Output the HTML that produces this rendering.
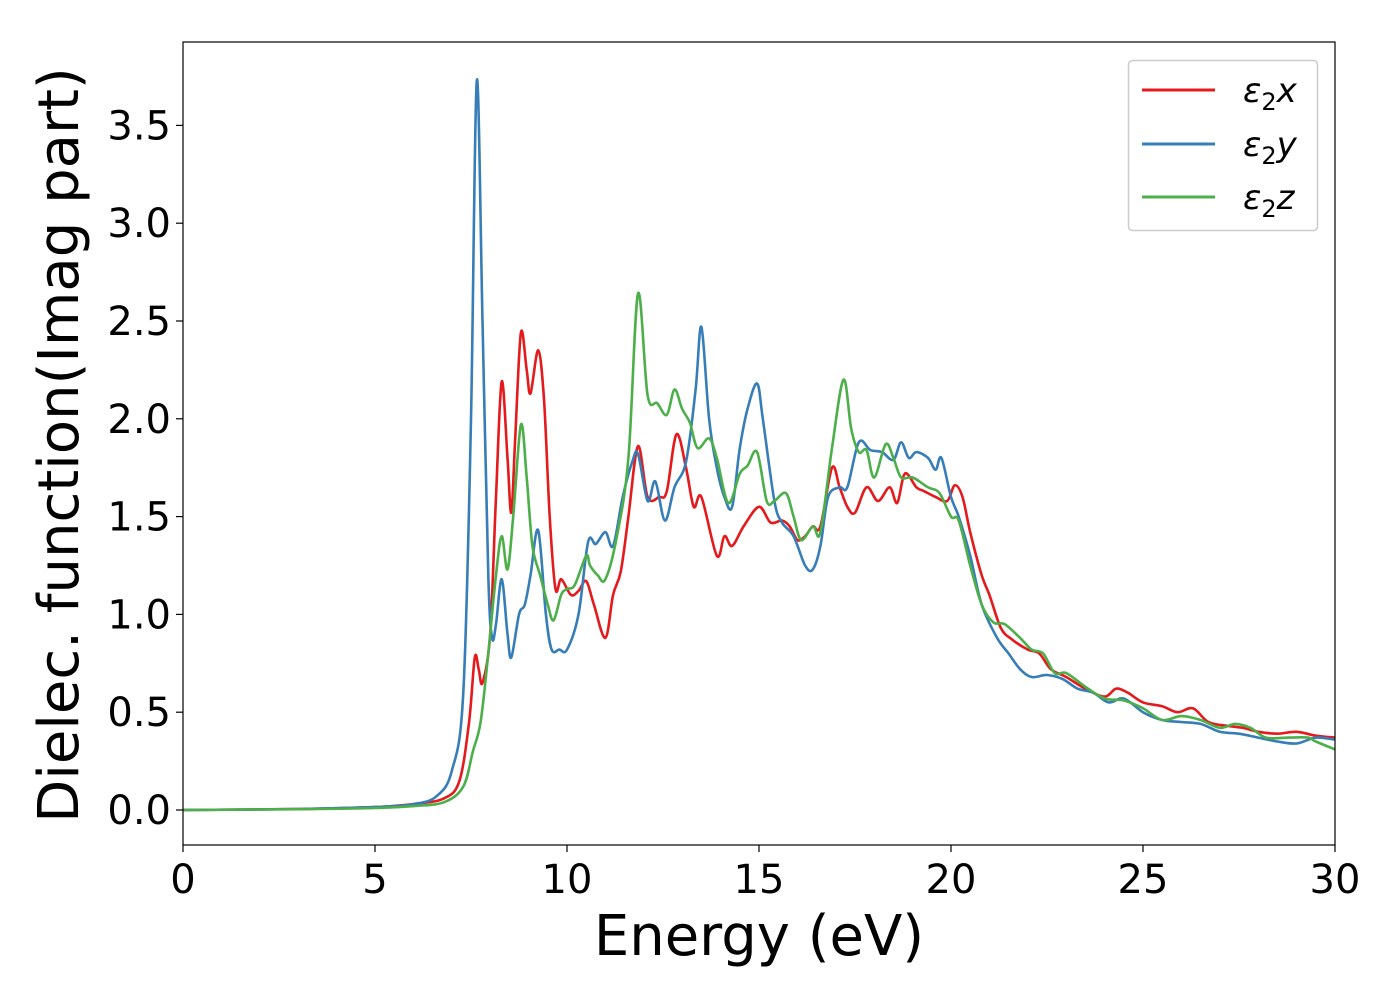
<!DOCTYPE html>
<html><head><meta charset="utf-8"><style>
html,body{margin:0;padding:0;background:#fff;}
svg{display:block;font-family:"DejaVu Sans","Liberation Sans",sans-serif;}
</style></head><body>
<svg id="chart" width="1400" height="1000" viewBox="0 0 1400 1000" xmlns="http://www.w3.org/2000/svg">
<rect width="1400" height="1000" fill="#fff"/>
<g id="plot"></g>
<g id="axes"></g>
<text x="759" y="955" font-size="56" text-anchor="middle">Energy (eV)</text>
<text transform="translate(78,445) rotate(-90)" font-size="56" text-anchor="middle">Dielec. function(Imag part)</text>
<g>
<rect x="1128.5" y="60.5" width="189" height="170" rx="4" fill="#fff" stroke="#ccc" stroke-width="1.5"/>
<g><line x1="1142" y1="90" x2="1215" y2="90" stroke="#e41a1c" stroke-width="3"/><text x="1243" y="102" font-size="34" font-style="italic">ε<tspan font-size="24" font-style="normal" dy="8">2</tspan><tspan dy="-8">x</tspan></text></g>
<g><line x1="1142" y1="144" x2="1215" y2="144" stroke="#377eb8" stroke-width="3"/><text x="1243" y="156" font-size="34" font-style="italic">ε<tspan font-size="24" font-style="normal" dy="8">2</tspan><tspan dy="-8">y</tspan></text></g>
<g><line x1="1142" y1="197" x2="1215" y2="197" stroke="#4daf4a" stroke-width="3"/><text x="1243" y="209" font-size="34" font-style="italic">ε<tspan font-size="24" font-style="normal" dy="8">2</tspan><tspan dy="-8">z</tspan></text></g>
</g>
</svg>
<script>
const xTicks=[0,5,10,15,20,25,30];
const yTicks=[0.0,0.5,1.0,1.5,2.0,2.5,3.0,3.5];
const xE=[0,3,5,6,6.8,7.2,7.45,7.6,7.7,7.8,8.0,8.15,8.3,8.45,8.55,8.65,8.8,8.95,9.05,9.25,9.4,9.55,9.7,9.85,10.1,10.3,10.5,10.7,11.0,11.2,11.4,11.6,11.85,12.1,12.4,12.6,12.85,13.1,13.3,13.5,13.9,14.1,14.3,14.6,15.0,15.3,15.6,15.8,16.0,16.2,16.4,16.6,16.9,17.1,17.3,17.5,17.8,18.1,18.4,18.6,18.8,19.1,19.3,19.6,19.9,20.1,20.3,20.5,20.8,21.0,21.3,21.6,22.0,22.3,22.6,23.0,23.5,24.0,24.3,24.6,25.0,25.5,25.9,26.3,26.7,27.2,27.6,28.0,28.5,29.0,29.5,30];
const xV=[0,0.005,0.015,0.03,0.06,0.15,0.45,0.78,0.72,0.65,0.9,1.6,2.19,1.8,1.52,1.9,2.44,2.25,2.13,2.35,2.1,1.5,1.13,1.18,1.1,1.12,1.17,1.05,0.88,1.1,1.22,1.5,1.86,1.6,1.6,1.63,1.92,1.75,1.55,1.6,1.3,1.4,1.35,1.45,1.55,1.47,1.48,1.45,1.38,1.4,1.45,1.45,1.75,1.65,1.55,1.52,1.65,1.58,1.65,1.57,1.72,1.65,1.63,1.6,1.58,1.66,1.6,1.42,1.2,1.1,0.93,0.87,0.82,0.8,0.72,0.68,0.62,0.58,0.62,0.6,0.55,0.53,0.5,0.52,0.45,0.43,0.42,0.4,0.39,0.4,0.38,0.37];
const yE=[0,3,5,6,6.6,7.0,7.3,7.5,7.65,7.8,7.95,8.05,8.15,8.3,8.45,8.55,8.75,8.9,9.05,9.25,9.45,9.6,9.8,10.0,10.3,10.55,10.75,11.0,11.2,11.45,11.7,11.85,12.1,12.3,12.55,12.8,13.1,13.35,13.5,13.7,13.9,14.1,14.3,14.5,14.7,14.95,15.1,15.4,15.6,15.9,16.2,16.4,16.6,16.8,17.1,17.3,17.6,17.9,18.2,18.5,18.7,18.9,19.1,19.4,19.6,19.75,20.0,20.2,20.5,20.8,21.2,21.5,21.8,22.1,22.5,22.9,23.3,23.7,24.1,24.5,25.0,25.5,26.0,26.5,27.0,27.5,28.0,28.5,29.0,29.5,30];
const yV=[0,0.005,0.015,0.03,0.07,0.2,0.6,2.0,3.73,2.5,1.2,0.88,0.95,1.18,0.9,0.78,1.0,1.05,1.2,1.43,1.0,0.82,0.82,0.82,1.0,1.37,1.36,1.42,1.35,1.6,1.78,1.82,1.58,1.68,1.48,1.65,1.78,2.15,2.47,2.0,1.75,1.6,1.55,1.85,2.05,2.18,2.0,1.58,1.47,1.4,1.25,1.23,1.35,1.6,1.65,1.65,1.88,1.84,1.83,1.79,1.88,1.8,1.83,1.8,1.74,1.8,1.6,1.5,1.3,1.05,0.88,0.8,0.72,0.68,0.69,0.67,0.62,0.6,0.55,0.57,0.5,0.46,0.45,0.44,0.4,0.39,0.37,0.35,0.34,0.37,0.36];
const zE=[0,3,5,6,6.8,7.3,7.55,7.75,7.95,8.15,8.3,8.45,8.6,8.8,8.95,9.1,9.3,9.5,9.65,9.85,10.0,10.2,10.5,10.6,10.8,11.0,11.3,11.6,11.85,12.1,12.35,12.6,12.8,13.0,13.2,13.4,13.7,13.9,14.2,14.5,14.7,14.95,15.2,15.4,15.7,15.9,16.1,16.4,16.6,16.9,17.2,17.4,17.6,17.8,18.0,18.3,18.5,18.7,19.0,19.4,19.7,20.0,20.2,20.5,20.8,21.1,21.4,21.8,22.1,22.4,22.7,23.0,23.5,24.0,24.5,25.0,25.5,26.0,26.5,27.0,27.4,27.8,28.2,28.8,29.3,29.5,30];
const zV=[0,0.004,0.01,0.02,0.04,0.12,0.3,0.45,0.8,1.2,1.4,1.23,1.5,1.97,1.7,1.35,1.2,1.05,0.97,1.1,1.13,1.15,1.3,1.25,1.2,1.18,1.4,1.8,2.64,2.12,2.08,2.02,2.15,2.05,1.98,1.85,1.9,1.8,1.57,1.72,1.76,1.83,1.58,1.58,1.62,1.5,1.38,1.45,1.42,1.85,2.2,1.95,1.83,1.84,1.7,1.87,1.8,1.7,1.7,1.65,1.62,1.5,1.48,1.25,1.05,0.96,0.95,0.88,0.82,0.8,0.7,0.7,0.63,0.57,0.56,0.52,0.46,0.48,0.46,0.42,0.44,0.42,0.37,0.37,0.37,0.35,0.31];

const L=183,R=1335,T=42,B=845;
const sx=v=>L+(v-0)/(30-0)*(R-L);
const sy=v=>810-v*195.6;
const NS='http://www.w3.org/2000/svg';
const plot=document.getElementById('plot'), axes=document.getElementById('axes');
function mk(tag,attrs,parent){const e=document.createElementNS(NS,tag);for(const k in attrs)e.setAttribute(k,attrs[k]);parent.appendChild(e);return e;}
function pathFor(E,V){
  const p=E.map((e,i)=>[sx(e),sy(V[i])]);
  let d='M'+p[0][0].toFixed(1)+','+p[0][1].toFixed(1);
  for(let i=0;i<p.length-1;i++){
    const p0=p[Math.max(0,i-1)],p1=p[i],p2=p[i+1],p3=p[Math.min(p.length-1,i+2)];
    const c1=[p1[0]+(p2[0]-p0[0])/6,p1[1]+(p2[1]-p0[1])/6];
    const c2=[p2[0]-(p3[0]-p1[0])/6,p2[1]-(p3[1]-p1[1])/6];
    d+='C'+c1[0].toFixed(1)+','+c1[1].toFixed(1)+' '+c2[0].toFixed(1)+','+c2[1].toFixed(1)+' '+p2[0].toFixed(1)+','+p2[1].toFixed(1);
  }
  return d;
}
mk('clipPath',{id:'clip'},plot).appendChild(Object.assign(document.createElementNS(NS,'rect'),{}));
plot.querySelector('clipPath rect').setAttribute('x',L);plot.querySelector('clipPath rect').setAttribute('y',T);
plot.querySelector('clipPath rect').setAttribute('width',R-L);plot.querySelector('clipPath rect').setAttribute('height',B-T);
const series=[[xE,xV,'#e41a1c','line-eps2x'],[yE,yV,'#377eb8','line-eps2y'],[zE,zV,'#4daf4a','line-eps2z']];
series.forEach(s=>{
  const el=mk('path',{d:pathFor(s[0],s[1]),fill:'none',stroke:s[2],'stroke-width':2.6,'stroke-linejoin':'round','clip-path':'url(#clip)'},plot);
  
  
});
const frame=mk('rect',{x:L,y:T,width:R-L,height:B-T,fill:'none',stroke:'#000','stroke-width':1.2},axes);


xTicks.forEach(t=>{
  mk('line',{x1:sx(t),y1:B,x2:sx(t),y2:B+7,stroke:'#000','stroke-width':1.2},axes);
  const tx=mk('text',{x:sx(t),y:B+48,'font-size':40,'text-anchor':'middle'},axes);
  tx.textContent=t;
  
  
});
yTicks.forEach(t=>{
  mk('line',{x1:L-7,y1:sy(t),x2:L,y2:sy(t),stroke:'#000','stroke-width':1.2},axes);
  const tx=mk('text',{x:L-12,y:sy(t)+14,'font-size':40,'text-anchor':'end'},axes);
  tx.textContent=t.toFixed(1);
  
  
});
</script>
</body></html>
